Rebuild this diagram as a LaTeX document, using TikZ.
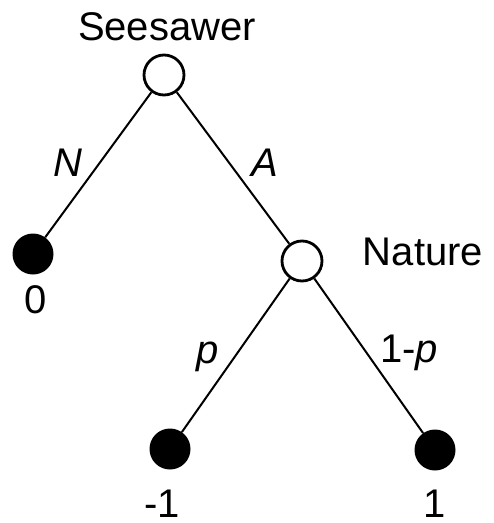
\documentclass[tikz,border=0pt]{standalone}
\usepackage{fontspec}
\setmainfont{Liberation Sans}
\begin{document}
\begin{tikzpicture}[x=1pt,y=-1pt,
  every node/.style={font=\fontsize{40}{46}\selectfont},
  decision/.style={circle,draw=black,fill=white,line width=2.8pt,minimum size=40pt,inner sep=0pt},
  terminal/.style={circle,fill=black,minimum size=41pt,inner sep=0pt},
  branch/.style={line width=2pt},
  lbl/.style={inner sep=0pt}]
\useasboundingbox (0,0) rectangle (494,523);
% decision nodes
\node[decision] (root) at (164,75) {};
\node[decision] (nature) at (302,261) {};
% terminal nodes
\node[terminal] (zero) at (33,254) {};
\node[terminal] (lose) at (170,449) {};
\node[terminal] (win) at (435,450) {};
% branches
\draw[branch] (root) -- (zero);
\draw[branch] (root) -- (nature);
\draw[branch] (nature) -- (lose);
\draw[branch] (nature) -- (win);
% player labels
\node[lbl] (seesawer) at (167,27) {Seesawer};
\node[lbl] (naturelbl) at (423,252) {Nature};
% action labels
\node[lbl] (labN) at (68,163) {\itshape N};
\node[lbl] (labA) at (265,163) {\itshape A};
\node[lbl] (labp) at (208,357) {\itshape p};
\node[lbl] (labq) at (409,353) {1-\textit{p}};
% payoffs
\node[lbl] (pay0) at (36,300) {0};
\node[lbl] (paym) at (162,504) {-1};
\node[lbl] (payp) at (435,504) {1};
\end{tikzpicture}
\end{document}
